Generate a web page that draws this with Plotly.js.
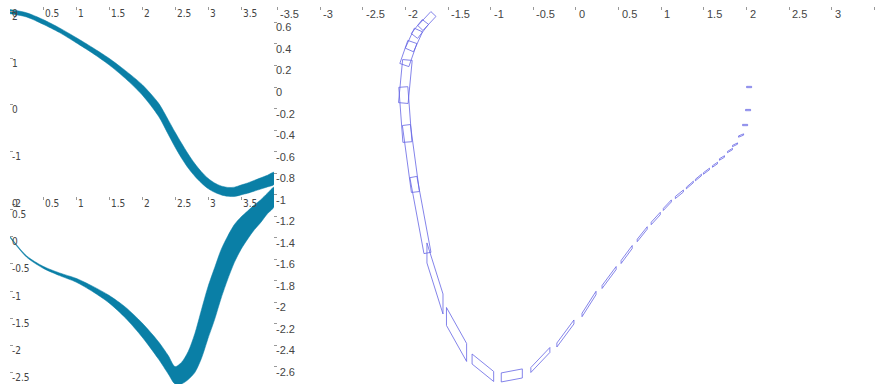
<!DOCTYPE html>
<html>
<head>
<meta charset="utf-8">
<script src="https://cdn.plot.ly/plotly-3.0.1.min.js"></script>
<style>html,body{margin:0;padding:0;background:#fff;}#chart{width:880px;height:384px;}</style>
</head>
<body>
<div id="chart"></div>
<script>
// ---- parameter samples ----
const t = [0,0.25,0.5,0.75,1,1.25,1.5,1.75,2,2.25,2.4,2.5,2.6,2.7,2.8,2.9,3,3.1,3.2,3.3,3.4,3.5,3.6,3.7,3.8,3.9,4];
// real part (top-left) centre and half thickness
const reCenter = [2.0,1.93,1.78,1.6,1.39,1.17,0.93,0.65,0.33,-0.1,-0.48,-0.74,-0.98,-1.2,-1.39,-1.55,-1.68,-1.77,-1.83,-1.86,-1.86,-1.82,-1.78,-1.73,-1.68,-1.63,-1.57];
const reHalf   = [0.045,0.045,0.05,0.05,0.055,0.06,0.07,0.085,0.11,0.14,0.155,0.16,0.16,0.15,0.135,0.12,0.11,0.1,0.095,0.095,0.1,0.105,0.11,0.115,0.12,0.125,0.13];
// imaginary part (bottom-left) centre and half thickness
const imCenter = [0.0,-0.36,-0.56,-0.69,-0.8,-0.96,-1.15,-1.4,-1.72,-2.1,-2.37,-2.56,-2.52,-2.38,-2.15,-1.8,-1.4,-1.05,-0.68,-0.38,-0.12,0.07,0.22,0.36,0.48,0.62,0.74];
const imHalf   = [0.01,0.012,0.018,0.025,0.035,0.05,0.07,0.1,0.13,0.16,0.17,0.16,0.2,0.26,0.36,0.45,0.48,0.48,0.45,0.4,0.35,0.3,0.26,0.23,0.21,0.19,0.18];

// ---- path segments in the plane (start, end, thickness vector) ----
const segX0 = [-1.671,-1.765,-1.847,-1.918,-1.976,-2.024,-1.988,-1.906,-1.747,-1.518,-1.218,-0.876,-0.529,-0.224,0.071,0.306,0.529,0.718,0.882,1.024,1.165,1.294,1.4,1.494,1.6,1.682,1.776,1.835,1.906,1.953,1.988,2.0];
const segY0 = [0.678,0.604,0.529,0.418,0.251,0.0,-0.353,-0.836,-1.541,-2.131,-2.526,-2.697,-2.628,-2.396,-2.117,-1.857,-1.625,-1.425,-1.267,-1.137,-1.026,-0.938,-0.864,-0.803,-0.738,-0.673,-0.604,-0.548,-0.460,-0.353,-0.214,0.0];
const segX1 = [-1.824,-1.894,-1.953,-2.012,-2.024,-1.976,-1.882,-1.741,-1.559,-1.282,-0.965,-0.629,-0.306,-0.024,0.235,0.471,0.659,0.835,0.988,1.118,1.259,1.376,1.471,1.565,1.659,1.741,1.835,1.894,1.965,2.012,2.047,2.059];
const segY1 = [0.548,0.474,0.344,0.204,-0.149,-0.511,-0.975,-1.541,-2.015,-2.465,-2.688,-2.660,-2.442,-2.182,-1.913,-1.681,-1.486,-1.309,-1.175,-1.058,-0.966,-0.882,-0.817,-0.761,-0.706,-0.645,-0.576,-0.525,-0.441,-0.353,-0.214,0.0];
const segTx = [0.060,0.074,0.096,0.106,0.112,0.106,0.094,0.082,0,0,0,0,0,0,0,0,0,0,0,0,0,0,0,0,0,0,0,0,0,0,0,0];
const segTy = [-0.045,-0.045,-0.034,-0.029,-0.008,0.006,0.009,0.012,0.186,0.167,0.093,0.084,0.046,0.037,0.032,0.028,0.028,0.023,0.023,0.019,0.019,0.014,0.014,0.014,0.014,0.014,0.012,0.012,0.012,0.012,0.012,0.012];

// ---- ticks and tick labels ----
const leftXTicks  = [0,0.5,1,1.5,2,2.5,3,3.5,4];
const leftXLabels = ['0','0.5','1','1.5','2','2.5','3','3.5'];
const topYTicks   = [2,1,0,-1,-2];
const topYLabels  = ['2','1','0','-1','-2'];
const botYTicks   = [0.5,0,-0.5,-1,-1.5,-2,-2.5];
const botYLabels  = ['0.5','0','-0.5','-1','-1.5','-2','-2.5'];
const rightXTicks  = [-3.5,-3,-2.5,-2,-1.5,-1,-0.5,0,0.5,1,1.5,2,2.5,3,3.5];
const rightXLabels = ['-3.5','-3','-2.5','-2','-1.5','-1','-0.5','0','0.5','1','1.5','2','2.5','3'];
const rightYTicks  = [0.6,0.4,0.2,0,-0.2,-0.4,-0.6,-0.8,-1,-1.2,-1.4,-1.6,-1.8,-2,-2.2,-2.4,-2.6];
const rightYLabels = ['0.6','0.4','0.2','0','-0.2','-0.4','-0.6','-0.8','-1','-1.2','-1.4','-1.6','-1.8','-2','-2.2','-2.4','-2.6'];

const bandColor = '#0a7fa6';
const segColor = 'rgb(100,100,228)';

function band(tv, c, h, xa, ya) {
  const xs = tv.concat(tv.slice().reverse());
  const up = c.map((v, i) => v + h[i]);
  const lo = c.map((v, i) => v - h[i]).reverse();
  return {type:'scatter', mode:'lines', x:xs, y:up.concat(lo), fill:'toself',
    fillcolor:bandColor, line:{color:bandColor, width:0.5, shape:'spline', smoothing:0.8},
    xaxis:xa, yaxis:ya, hoverinfo:'skip'};
}

const qx = [], qy = [];
for (let i = 0; i < segX0.length; i++) {
  const hx = segTx[i] / 2, hy = segTy[i] / 2;
  qx.push(segX0[i]-hx, segX1[i]-hx, segX1[i]+hx, segX0[i]+hx, segX0[i]-hx, null);
  qy.push(segY0[i]-hy, segY1[i]-hy, segY1[i]+hy, segY0[i]+hy, segY0[i]-hy, null);
}
const segTrace = {type:'scatter', mode:'lines', x:qx, y:qy, line:{color:segColor, width:0.8},
  connectgaps:false, xaxis:'x3', yaxis:'y3', hoverinfo:'skip'};

const W = 880, H = 384;
const smallFont = {family:'"Liberation Sans Narrow", "Arial Narrow", "DejaVu Sans Condensed", sans-serif', size:10, color:'#444'};
const bigFont = {family:'"Liberation Sans", Arial, sans-serif', size:11, color:'#444'};
const common = {ticks:'inside', ticklen:3, tickwidth:1, tickcolor:'#999', showgrid:false,
  zeroline:false, showline:false, tickmode:'array', showticklabels:false, fixedrange:true};

const topPix = 7, leftTopBottomPix = 199, botTopPix = 186, botAxisPix = 196;
const layout = {
  width:W, height:H, margin:{l:0, r:0, t:0, b:0, pad:0}, showlegend:false,
  paper_bgcolor:'#fff', plot_bgcolor:'rgba(0,0,0,0)',
  xaxis: Object.assign({}, common, {domain:[10/W, 274/W], range:[0,4], anchor:'y', side:'top', tickvals:leftXTicks}),
  yaxis: Object.assign({}, common, {domain:[(H-leftTopBottomPix)/H, (H-topPix)/H], range:[-2.013, 2.098], anchor:'x', tickvals:topYTicks}),
  xaxis2: Object.assign({}, common, {domain:[10/W, 274/W], range:[0,4], anchor:'free', position:(H-botAxisPix)/H, side:'top', tickvals:leftXTicks}),
  yaxis2: Object.assign({}, common, {domain:[0, (H-botTopPix)/H], range:[-2.722, 0.944], anchor:'x2', tickvals:botYTicks}),
  xaxis3: Object.assign({}, common, {domain:[274/W, 1], range:[-3.54, 3.564], anchor:'y3', side:'top', tickvals:rightXTicks}),
  yaxis3: Object.assign({}, common, {domain:[0, (H-topPix)/H], range:[-2.758, 0.743], anchor:'x3', tickvals:rightYTicks}),
  annotations:[]
};

function xLabels(vals, labels, xref, yPix, font, xs) {
  labels.forEach((s, i) => layout.annotations.push({text:s, xref:xref, yref:'paper', x:vals[i], y:(H-yPix)/H,
    xanchor:'left', yanchor:'middle', xshift:xs, yshift:-7, showarrow:false, font:font, borderpad:0, borderwidth:0}));
}
function yLabels(vals, labels, yref, xPix, font) {
  labels.forEach((s, i) => layout.annotations.push({text:s, xref:'paper', yref:yref, x:xPix/W, y:vals[i],
    xanchor:'left', yanchor:'middle', xshift:2, yshift:-5, showarrow:false, font:font, borderpad:0, borderwidth:0}));
}
xLabels(leftXTicks, leftXLabels, 'x', topPix, smallFont, 2);
xLabels(leftXTicks, leftXLabels, 'x2', botAxisPix, smallFont, 2);
xLabels(rightXTicks, rightXLabels, 'x3', topPix, bigFont, 3);
yLabels(topYTicks, topYLabels, 'y', 10, smallFont);
yLabels(botYTicks, botYLabels, 'y2', 10, smallFont);
yLabels(rightYTicks, rightYLabels, 'y3', 274, bigFont);

const data = [
  band(t, reCenter, reHalf, 'x', 'y'),
  band(t, imCenter, imHalf, 'x2', 'y2'),
  segTrace
];

Plotly.newPlot('chart', data, layout, {staticPlot:true, displayModeBar:false});
</script>
</body>
</html>
